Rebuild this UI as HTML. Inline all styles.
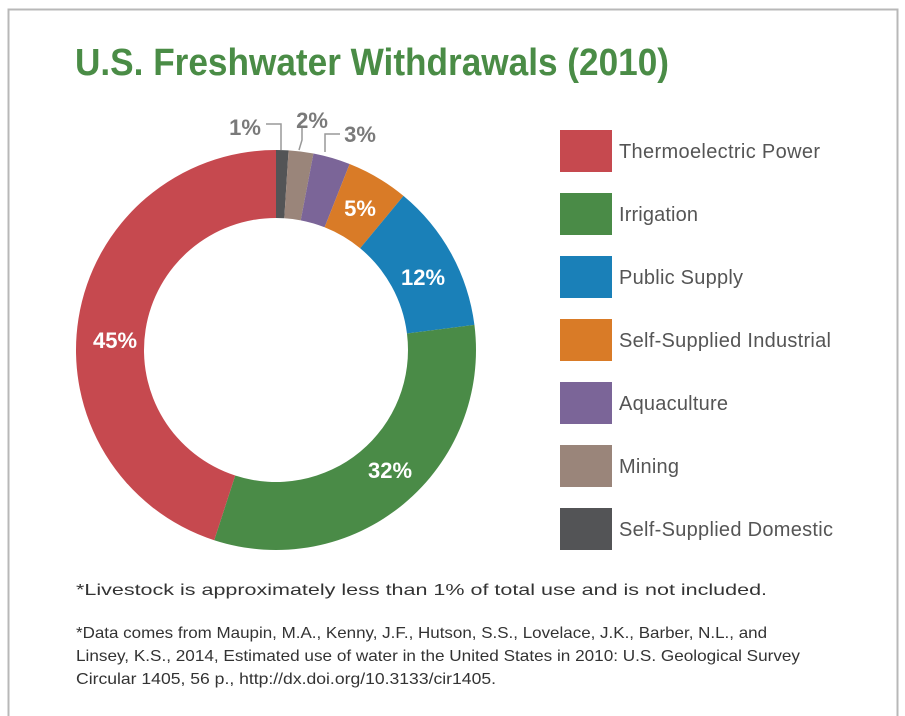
<!DOCTYPE html>
<html><head><meta charset="utf-8"><style>
html,body{margin:0;padding:0;background:#fff;width:905px;height:716px;overflow:hidden}
</style></head><body>
<svg id="s" width="905" height="716" xmlns="http://www.w3.org/2000/svg" font-family="Liberation Sans, sans-serif">
<rect x="0" y="0" width="905" height="716" fill="#fff"/>
<path d="M8.5 716 V9.5 H897.5 V716" fill="none" stroke="#b8b8b8" stroke-width="2"/>
<text x="75" y="75" font-size="38" font-weight="bold" fill="#4a8c46" textLength="594" lengthAdjust="spacingAndGlyphs">U.S. Freshwater Withdrawals (2010)</text>
<g id="donut"></g>
<g font-weight="bold" font-size="22" fill="#fff" text-anchor="middle">
<text x="115" y="348">45%</text>
<text x="390" y="478">32%</text>
<text x="423" y="285">12%</text>
<text x="360" y="216">5%</text>
</g>
<g font-weight="bold" font-size="22" fill="#7a7a7a" text-anchor="middle">
<text x="245" y="135">1%</text>
<text x="312" y="128">2%</text>
<text x="360" y="142">3%</text>
</g>
<g fill="none" stroke="#999" stroke-width="1.5">
<path d="M266 124 H281 V150"/>
<path d="M302 128 V140 L299 150"/>
<path d="M340 134 H325 V152"/>
</g>
<g font-size="20" fill="#555" lengthAdjust="spacingAndGlyphs">
<rect x="560" y="130" width="52" height="42" fill="#c6494f"/><text x="619" y="158" textLength="201">Thermoelectric Power</text>
<rect x="560" y="193" width="52" height="42" fill="#4a8b47"/><text x="619" y="221" textLength="79">Irrigation</text>
<rect x="560" y="256" width="52" height="42" fill="#1a80b8"/><text x="619" y="284" textLength="124">Public Supply</text>
<rect x="560" y="319" width="52" height="42" fill="#d97b27"/><text x="619" y="347" textLength="212">Self-Supplied Industrial</text>
<rect x="560" y="382" width="52" height="42" fill="#7b6598"/><text x="619" y="410" textLength="109">Aquaculture</text>
<rect x="560" y="445" width="52" height="42" fill="#9a857a"/><text x="619" y="473" textLength="60">Mining</text>
<rect x="560" y="508" width="52" height="42" fill="#535456"/><text x="619" y="536" textLength="214">Self-Supplied Domestic</text>
</g>
<g font-size="16" fill="#333">
<text x="76" y="595" textLength="691" lengthAdjust="spacingAndGlyphs">*Livestock is approximately less than 1% of total use and is not included.</text>
<text x="76" y="638" textLength="691" lengthAdjust="spacingAndGlyphs">*Data comes from Maupin, M.A., Kenny, J.F., Hutson, S.S., Lovelace, J.K., Barber, N.L., and</text>
<text x="76" y="661" textLength="724" lengthAdjust="spacingAndGlyphs">Linsey, K.S., 2014, Estimated use of water in the United States in 2010: U.S. Geological Survey</text>
<text x="76" y="684" textLength="420" lengthAdjust="spacingAndGlyphs">Circular 1405, 56 p., http://dx.doi.org/10.3133/cir1405.</text>
</g>
</svg>
<script>
(function(){
var cx=276,cy=350,R=200,r=132;
var segs=[[1,"#535456"],[2,"#9a857a"],[3,"#7b6598"],[5,"#d97b27"],[12,"#1a80b8"],[32,"#4a8b47"],[45,"#c6494f"]];
var g=document.getElementById("donut"),a=0,ns="http://www.w3.org/2000/svg";
function pt(rad,ang){var t=ang/100*2*Math.PI;return [cx+rad*Math.sin(t),cy-rad*Math.cos(t)];}
segs.forEach(function(s){
var b=a+s[0],l=s[0]>50?1:0;
var p1=pt(R,a),p2=pt(R,b),p3=pt(r,b),p4=pt(r,a);
var d="M"+p1+" A"+R+" "+R+" 0 "+l+" 1 "+p2+" L"+p3+" A"+r+" "+r+" 0 "+l+" 0 "+p4+"Z";
var e=document.createElementNS(ns,"path");e.setAttribute("d",d);e.setAttribute("fill",s[1]);g.appendChild(e);a=b;});
})();
</script>
</body></html>
